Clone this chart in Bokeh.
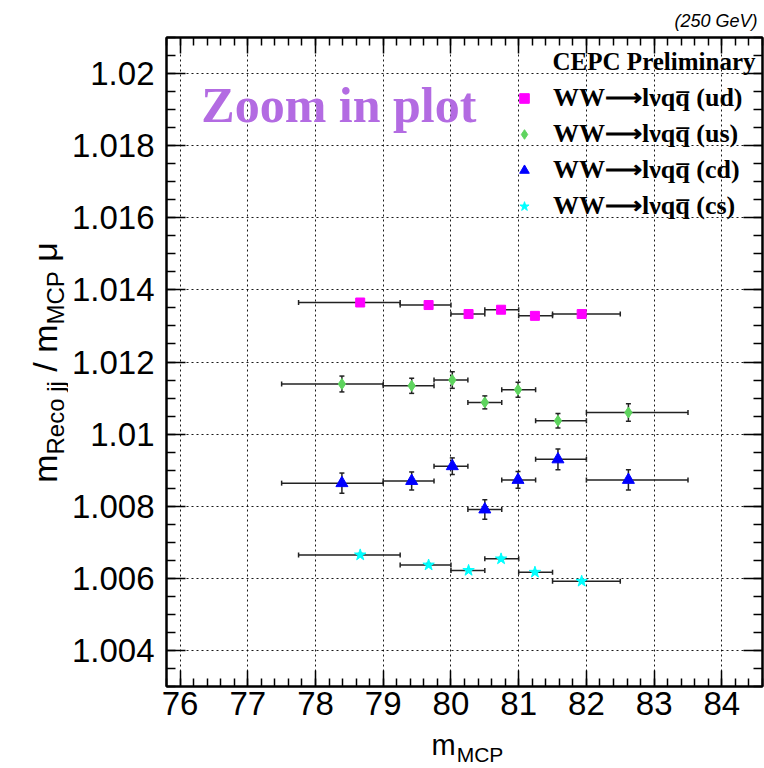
import numpy as np
from bokeh.plotting import figure
from bokeh.layouts import column, row
from bokeh.models import (ColumnDataSource, Whisker, TeeHead, LinearAxis, FixedTicker,
                          Label, Legend, LegendItem, Range1d, CustomJSTickFormatter)
from bokeh.embed import file_html
from bokeh.resources import INLINE

# ---------------- data ----------------
x_ticks = [76, 77, 78, 79, 80, 81, 82, 83, 84]
x_tick_labels = ["76", "77", "78", "79", "80", "81", "82", "83", "84"]
y_ticks = [1.004, 1.006, 1.008, 1.010, 1.012, 1.014, 1.016, 1.018, 1.020]
y_tick_labels = ["1.004", "1.006", "1.008", "1.01", "1.012", "1.014", "1.016", "1.018", "1.02"]

# WW -> l nu q qbar (ud)
ud_x = [78.66, 79.67, 80.26, 80.74, 81.24, 81.93]
ud_y = [1.01365, 1.01358, 1.01333, 1.01345, 1.01328, 1.01333]
ud_yerr = [0.00004, 0.00004, 0.00004, 0.00004, 0.00004, 0.00004]
ud_xlo = [77.75, 79.25, 80.00, 80.50, 81.00, 81.50]
ud_xhi = [79.25, 80.00, 80.50, 81.00, 81.50, 82.50]

# (us)
us_x = [78.39, 79.42, 80.02, 80.50, 80.99, 81.58, 82.62]
us_y = [1.01139, 1.01134, 1.01150, 1.01088, 1.01123, 1.01037, 1.01060]
us_yerr = [0.00022, 0.00021, 0.00023, 0.00018, 0.00021, 0.00020, 0.00024]
us_xlo = [77.50, 79.00, 79.75, 80.25, 80.75, 81.25, 82.00]
us_xhi = [79.00, 79.75, 80.25, 80.75, 81.25, 82.00, 83.50]

# (cd)
cd_x = [78.39, 79.42, 80.02, 80.50, 80.99, 81.58, 82.62]
cd_y = [1.00864, 1.00870, 1.00911, 1.00791, 1.00873, 1.00930, 1.00873]
cd_yerr = [0.00028, 0.00025, 0.00023, 0.00027, 0.00023, 0.00029, 0.00028]
cd_xlo = [77.50, 79.00, 79.75, 80.25, 80.75, 81.25, 82.00]
cd_xhi = [79.00, 79.75, 80.25, 80.75, 81.25, 82.00, 83.50]

# (cs)
cs_x = [78.66, 79.67, 80.26, 80.74, 81.24, 81.93]
cs_y = [1.00665, 1.00637, 1.00622, 1.00654, 1.00617, 1.00592]
cs_yerr = [0.00004, 0.00004, 0.00004, 0.00004, 0.00004, 0.00004]
cs_xlo = [77.75, 79.25, 80.00, 80.50, 81.00, 81.50]
cs_xhi = [79.25, 80.00, 80.50, 81.00, 81.50, 82.50]

QBAR = "q\u0305"
ARROW = "\u27f6"
series_labels = ["WW" + ARROW + "l\u03bdq" + QBAR + " (ud)",
                 "WW" + ARROW + "l\u03bdq" + QBAR + " (us)",
                 "WW" + ARROW + "l\u03bdq" + QBAR + " (cd)",
                 "WW" + ARROW + "l\u03bdq" + QBAR + " (cs)"]

# ---------------- layout geometry (canvas pixels) ----------------
W, H = 764, 768
YT_W = 68          # width of the strip holding the y-axis title
XT_H = 40          # height of the strip holding the x-axis title
MW, MH = W - YT_W, H - XT_H
FL, FR, FT = 163, 2, 37            # frame edges in canvas pixels
FBOT = 686                          # frame bottom edge (canvas px)
FB = MH - FBOT
FW, FH = W - FL - FR, FBOT - FT
XR = (75.8, 84.6)
YR = (1.003, 1.021)

p = figure(width=MW, height=MH, output_backend="svg", toolbar_location=None,
           x_range=Range1d(*XR), y_range=Range1d(*YR),
           min_border_left=FL - YT_W, min_border_right=FR,
           min_border_top=FT, min_border_bottom=FB)
p.background_fill_color = "white"
p.border_fill_color = "white"
p.outline_line_color = "black"
p.outline_line_width = 2

TICKFONT = "Liberation Sans"
TICKSIZE = "33px"

x_minor = [round(v, 2) for v in np.arange(75.8, 84.61, 0.2)]
y_minor = [round(v, 5) for v in np.arange(1.003, 1.02101, 0.0005)]
xt = FixedTicker(ticks=x_ticks, minor_ticks=x_minor)
yt = FixedTicker(ticks=y_ticks, minor_ticks=y_minor)

xa = p.xaxis[0]
xa.ticker = xt
xa.major_label_overrides = {float(t): s for t, s in zip(x_ticks, x_tick_labels)}
ya = p.yaxis[0]
ya.ticker = yt
ya.major_label_overrides = {float(t): s for t, s in zip(y_ticks, y_tick_labels)}

for ax in (xa, ya):
    ax.major_label_text_font = TICKFONT
    ax.major_label_text_font_size = TICKSIZE
    ax.major_label_text_color = "black"
    ax.axis_line_color = "black"
    ax.axis_line_width = 2
    ax.major_tick_out = 0
    ax.minor_tick_out = 0
    ax.major_tick_line_color = "black"
    ax.minor_tick_line_color = "black"
    ax.major_tick_line_width = 1.5
    ax.minor_tick_line_width = 1.5
xa.major_tick_in = 16
xa.minor_tick_in = 8
xa.major_label_standoff = 5
ya.major_tick_in = 19
ya.minor_tick_in = 9
ya.major_label_standoff = 12

# mirror axes (ticks only, empty labels)
blank = CustomJSTickFormatter(code="return ''")
ra = LinearAxis(ticker=yt, formatter=blank, major_label_standoff=0,
                major_tick_in=19, minor_tick_in=9, major_tick_out=0, minor_tick_out=0,
                axis_line_width=2, major_tick_line_width=1.5, minor_tick_line_width=1.5)
ta = LinearAxis(ticker=xt, formatter=blank, major_label_standoff=0,
                major_tick_in=16, minor_tick_in=8, major_tick_out=0, minor_tick_out=0,
                axis_line_width=2, major_tick_line_width=1.5, minor_tick_line_width=1.5)
p.add_layout(ra, "right")
p.add_layout(ta, "above")

for g in (p.xgrid[0], p.ygrid[0]):
    g.grid_line_color = "black"
    g.grid_line_dash = "2 3"
    g.grid_line_width = 1
    g.grid_line_alpha = 0.9

ERR = "#222222"


def add_series(x, y, yerr, xlo, xhi, marker, color, size):
    src = ColumnDataSource(dict(
        x=x, y=y, xlo=xlo, xhi=xhi,
        ylo=[a - b for a, b in zip(y, yerr)],
        yhi=[a + b for a, b in zip(y, yerr)]))
    for base, lo, hi, dim in (("y", "xlo", "xhi", "width"), ("x", "ylo", "yhi", "height")):
        p.add_layout(Whisker(source=src, base=base, lower=lo, upper=hi, dimension=dim,
                             line_color=ERR, line_width=1.5,
                             lower_head=TeeHead(size=5, line_color=ERR, line_width=1.5),
                             upper_head=TeeHead(size=5, line_color=ERR, line_width=1.5)))
    return p.scatter("x", "y", source=src, marker=marker, size=size,
                     fill_color=color, line_color=color)


r_ud = add_series(ud_x, ud_y, ud_yerr, ud_xlo, ud_xhi, "square", "#ff00ff", 9)
r_us = add_series(us_x, us_y, us_yerr, us_xlo, us_xhi, "diamond", "#5ed45e", 11)
r_cd = add_series(cd_x, cd_y, cd_yerr, cd_xlo, cd_xhi, "triangle", "#0000ff", 12)
r_cs = add_series(cs_x, cs_y, cs_yerr, cs_xlo, cs_xhi, "star", "#00ffff", 12)

legend = Legend(items=[LegendItem(label=lab, renderers=[r])
                       for lab, r in zip(series_labels, [r_ud, r_us, r_cd, r_cs])],
                location=(346, 465), orientation="vertical",
                padding=0, margin=0, spacing=5,
                glyph_width=24, glyph_height=30, label_height=30,
                label_standoff=17,
                label_text_font="Liberation Serif", label_text_font_style="bold",
                label_text_font_size="26px", label_text_color="black",
                background_fill_alpha=0, border_line_alpha=0)
p.add_layout(legend)


def px2x(px):
    return XR[0] + (px - FL) / FW * (XR[1] - XR[0])


def py2y(py):
    return YR[1] - (py - FT) / FH * (YR[1] - YR[0])


def mk_label(x, y, units, text, size, font, style, color, align, angle):
    return Label(x=x, y=y, x_units=units, y_units=units,
                 text=text, text_font=font, text_font_size=f"{size}px",
                 text_font_style=style, text_color=color, text_align=align,
                 text_baseline="middle", angle=angle, angle_units="deg")


def anchor(px, py, size, angle):
    # (px, py) is the start of the alphabetic baseline; "middle" sits ~0.345 em above it
    off = 0.345 * size
    return (px, py - off) if angle == 0 else (px - off, py)


def lab(px, py, text, size, font="Liberation Sans", style="normal", color="black",
        align="left", angle=0, side="center"):
    ax_, ay_ = anchor(px, py, size, angle)
    p.add_layout(mk_label(px2x(ax_), py2y(ay_), "data", text, size, font, style,
                          color, align, angle), side)


def text_fig(w, h):
    f = figure(width=w, height=h, output_backend="svg", toolbar_location=None,
               x_range=Range1d(0, w), y_range=Range1d(0, h),
               x_axis_location=None, y_axis_location=None, min_border=0)
    f.outline_line_color = None
    f.xgrid.visible = False
    f.ygrid.visible = False
    f.background_fill_color = "white"
    f.border_fill_color = "white"
    return f


def tlab(f, fl, fb, px, py, text, size, angle=0, font="Liberation Sans"):
    # fl, fb: canvas x of the strip's frame left edge and canvas y of its frame bottom
    ax_, ay_ = anchor(px, py, size, angle)
    f.add_layout(mk_label(ax_ - fl, fb - ay_, "screen", text, size, font,
                          "normal", "black", "left", angle))


NB = "\u00a0"
lab(757, 27, "(250 GeV)", 18, style="italic", align="right", side="above")
lab(551, 70, "CEPC Preliminary", 25, font="Liberation Serif", style="bold")
lab(198, 122, "Zoom in plot", 50, font="Liberation Serif", style="bold", color="#b36be2")

# x-axis title  m_MCP
xtf = text_fig(W, XT_H)
BIG, SUB = 29, 21
tlab(xtf, 0, H, 431, 755, "m", BIG)
tlab(xtf, 0, H, 431 + 0.833 * BIG + 1, 761, "MCP", SUB)

# y-axis title  m_{Reco jj} / m_{MCP} mu  (rotated); the strip's frame is aligned
# with the main frame (top 37, bottom 686)
ytf = text_fig(YT_W, MH)
YB, YS = 34, 24
parts = [("m", YB, 0.833 * YB), ("Reco" + NB + "jj", YS, 3.056 * YS),
         (NB + "/" + NB, YB, 0.834 * YB), ("m", YB, 0.833 * YB),
         ("MCP", YS, 2.222 * YS), (NB + "\u03bc", YB, 0.854 * YB)]
total = sum(w for _, _, w in parts)
ypos = 362 + total / 2
for txt, sz, w in parts:
    bx = 56 if sz == YB else 63
    tlab(ytf, 0, FBOT, bx, ypos, txt, sz, angle=90)
    ypos -= w

layout = column(row(ytf, p, spacing=0), xtf, spacing=0)
open("out.html", "w").write(file_html(layout, INLINE))
